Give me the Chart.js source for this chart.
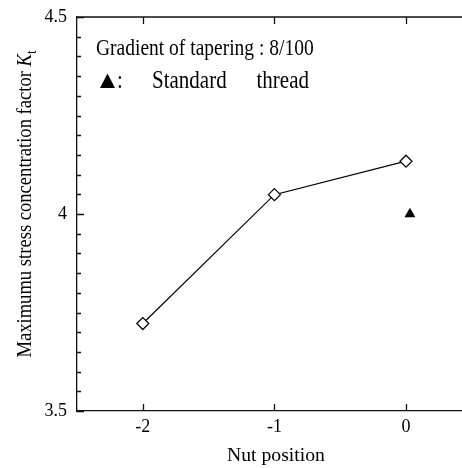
<!DOCTYPE html>
<html>
<head>
<meta charset="utf-8">
<script src="https://cdn.jsdelivr.net/npm/chart.js@4"></script>
<style>
    html, body { margin: 0; padding: 0; background: #fff; }
    #wrap { width: 462px; height: 468px; }
</style>
</head>
<body>
<div id="wrap"><canvas id="graphiqueKt" width="462" height="468"></canvas></div>
<script>
const nutPositions = [-2, -1, 0];
const taperedKt = [3.722, 4.049, 4.134];
const standardPositions = [0.03];
const standardKt = [4.0];
const xTicks = [-2, -1, 0];
const yTicks = [3.5, 4, 4.5];
const yMinorStep = 0.05;

const serif = "'Liberation Serif', 'Times New Roman', serif";

// text a little taller than wide, like the notes in the plot
function texteEtire(ctx, txt, x, y, size, sy) {
    ctx.save();
    ctx.translate(x, y);
    ctx.scale(1, sy);
    ctx.font = size + "px " + serif;
    ctx.fillText(txt, 0, 0);
    ctx.restore();
}

// inward ticks, top frame line, notes and axis titles
const cadre = {
    id: "cadre",
    afterDraw(chart) {
        const ctx = chart.ctx;
        const area = chart.chartArea;
        const x = chart.scales.x;
        const y = chart.scales.y;
        ctx.save();
        ctx.strokeStyle = "#111";
        ctx.lineWidth = 1.3;
        ctx.beginPath();
        ctx.moveTo(area.left, area.top);
        ctx.lineTo(area.right, area.top);
        xTicks.forEach(v => {
            const px = Math.round(x.getPixelForValue(v)) + 0.5;
            ctx.moveTo(px, area.bottom);
            ctx.lineTo(px, area.bottom - 7);
            ctx.moveTo(px, area.top);
            ctx.lineTo(px, area.top + 7);
        });
        for (let i = 0; i <= 20; i++) {
            const v = 3.5 + i * yMinorStep;
            const py = Math.round(y.getPixelForValue(v)) + 0.5;
            const major = i % 10 === 0;
            ctx.moveTo(area.left, py);
            ctx.lineTo(area.left + (major ? 7 : 4), py);
        }
        ctx.stroke();

        ctx.fillStyle = "#000";
        ctx.textBaseline = "alphabetic";
        texteEtire(ctx, "Gradient of tapering : 8/100", 96, 55, 19.5, 1.15);
        texteEtire(ctx, ":", 117, 88, 21, 1.15);
        texteEtire(ctx, "Standard", 152, 88, 21, 1.15);
        texteEtire(ctx, "thread", 256.5, 88, 21, 1.15);
        ctx.beginPath();
        ctx.moveTo(107.5, 73.5);
        ctx.lineTo(115, 88);
        ctx.lineTo(100, 88);
        ctx.closePath();
        ctx.fill();

        // x title
        ctx.font = "19.7px " + serif;
        ctx.textAlign = "center";
        ctx.fillText("Nut position", 276, 461);
        ctx.textAlign = "left";

        // y title, rotated, with K subscript t
        ctx.translate(31, 204);
        ctx.rotate(-Math.PI / 2);
        ctx.scale(1, 1.15);
        const main = "Maximumu stress concentration factor ";
        ctx.font = "18.6px " + serif;
        const w1 = ctx.measureText(main).width;
        ctx.font = "italic 18.6px " + serif;
        const w2 = ctx.measureText("K").width;
        ctx.font = "13px " + serif;
        const w3 = ctx.measureText("t").width;
        const start = -(w1 + w2 + w3) / 2;
        ctx.font = "18.6px " + serif;
        ctx.fillText(main, start, 0);
        ctx.font = "italic 18.6px " + serif;
        ctx.fillText("K", start + w1, 0);
        ctx.font = "13px " + serif;
        ctx.fillText("t", start + w1 + w2, 4);
        ctx.restore();
    }
};

// no extra room for the end labels
function sansPadding(scale) {
    scale.paddingTop = 0;
    scale.paddingBottom = 0;
    scale.paddingLeft = 0;
    scale.paddingRight = 0;
}

new Chart(document.getElementById("graphiqueKt"), {
    type: "scatter",
    data: {
        datasets: [{
            label: "Tapered",
            data: nutPositions.map((p, i) => ({ x: p, y: taperedKt[i] })),
            showLine: true,
            borderColor: "#000",
            borderWidth: 1.2,
            pointStyle: "rectRot",
            pointRadius: 6,
            pointBorderWidth: 1.2,
            pointBackgroundColor: "#fff",
            pointBorderColor: "#000"
        }, {
            label: "Standard thread",
            data: standardPositions.map((p, i) => ({ x: p, y: standardKt[i] })),
            pointStyle: "triangle",
            pointRadius: 6.3,
            pointBorderWidth: 0,
            pointBackgroundColor: "#000",
            pointBorderColor: "#000"
        }]
    },
    options: {
        responsive: false,
        animation: false,
        layout: { autoPadding: false, padding: { top: 17, right: 0, left: 0, bottom: 0 } },
        plugins: {
            legend: { display: false },
            tooltip: { enabled: false }
        },
        scales: {
            x: {
                type: "linear",
                min: -2.5,
                max: 0.4255,
                afterBuildTicks: scale => {
                    scale.ticks = xTicks.map(v => ({ value: v }));
                },
                afterFit: scale => {
                    scale.height = 57;
                    sansPadding(scale);
                },
                grid: { display: false, drawTicks: false },
                border: { display: true, color: "#111", width: 1.3 },
                ticks: {
                    color: "#000",
                    padding: 5,
                    font: { family: serif, size: 18 },
                    callback: v => String(v).replace("−", "-")
                }
            },
            y: {
                min: 3.5,
                max: 4.5,
                afterBuildTicks: scale => {
                    scale.ticks = yTicks.map(v => ({ value: v }));
                },
                afterFit: scale => {
                    scale.width = 77;
                    sansPadding(scale);
                },
                grid: { display: false, drawTicks: false },
                border: { display: true, color: "#111", width: 1.3 },
                ticks: {
                    color: "#000",
                    padding: 10,
                    font: { family: serif, size: 18 },
                    callback: v => String(v)
                }
            }
        }
    },
    plugins: [cadre]
});
</script>
</body>
</html>
